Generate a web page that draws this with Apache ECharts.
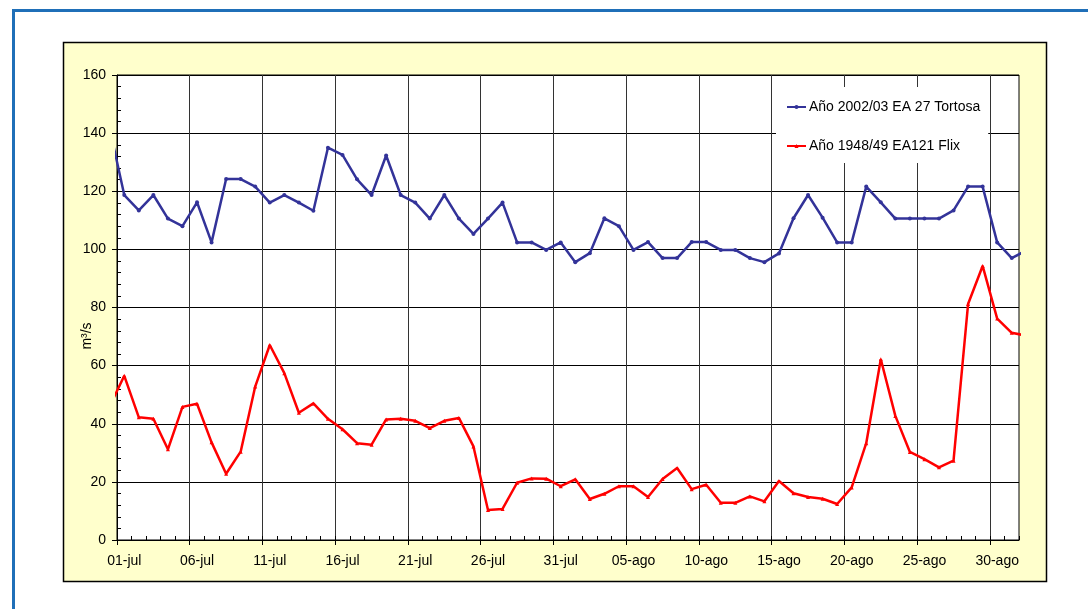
<!DOCTYPE html>
<html>
<head>
<meta charset="utf-8">
<script src="https://cdn.jsdelivr.net/npm/echarts@6/dist/echarts.min.js"></script>
<style>
  html, body { margin: 0; padding: 0; background: #fff; }
  #chart { width: 1088px; height: 609px; }
</style>
</head>
<body>
<div id="chart"></div>
<script>
// days 30-jun .. 01-sep; first and last only feed the clipped segments at the plot edges
const days = ['30-jun']
for (let d = 1; d <= 31; d++) days.push(String(d).padStart(2, '0') + '-jul')
for (let d = 1; d <= 31; d++) days.push(String(d).padStart(2, '0') + '-ago')
days.push('01-sep')

const seriesNames = ['Año 2002/03 EA 27 Tortosa', 'Año 1948/49 EA121 Flix']

const tortosa = [
  141.5,
  118.7, 113.4, 118.7, 110.6, 108.0, 116.2, 102.4, 124.2, 124.2, 121.6,
  116.1, 118.7, 116.1, 113.3, 135.0, 132.5, 124.1, 118.7, 132.3, 118.7,
  116.1, 110.6, 118.7, 110.6, 105.3, 110.6, 116.1, 102.4, 102.4, 99.8,
  102.4,
  95.6, 98.7, 110.7, 108.0, 99.8, 102.5, 97.0, 97.0, 102.5, 102.5,
  99.8, 99.8, 97.0, 95.6, 98.6, 110.7, 118.7, 110.9, 102.4, 102.4,
  121.6, 116.2, 110.6, 110.6, 110.6, 110.6, 113.4, 121.6, 121.6, 102.4,
  97.0,
  99.6
]

const flix = [
  46.1,
  56.5, 42.2, 41.7, 31.2, 45.8, 46.9, 33.6, 22.8, 30.4, 52.8,
  67.1, 57.4, 43.8, 47.0, 41.7, 38.1, 33.3, 32.8, 41.5, 41.7,
  41.0, 38.5, 41.0, 42.0, 32.2, 10.3, 10.7, 19.7, 21.2, 21.1,
  18.5,
  20.9, 14.1, 15.9, 18.5, 18.5, 14.8, 21.0, 24.8, 17.5, 19.0,
  12.8, 12.8, 15.0, 13.3, 20.3, 16.1, 14.8, 14.2, 12.4, 18.1,
  33.3, 62.2, 42.7, 30.3, 27.8, 25.0, 27.3, 81.2, 94.3, 76.2,
  71.3,
  70.3
]

// labelled days: 01-jul, 06-jul, ... 30-ago
const labelIdx = []
for (let i = 1; i < days.length - 1; i += 5) labelIdx.push(i)
const nDays = days.length - 2

const font = 'Liberation Sans, Arial, sans-serif'

const chart = echarts.init(document.getElementById('chart'))

const option = {
  backgroundColor: '#fff',
  animation: false,
  textStyle: { fontFamily: font },
  graphic: [
    {
      type: 'rect',
      z: -20,
      shape: { x: 13.5, y: 10.5, width: 1200, height: 800 },
      style: { fill: '#fff', stroke: '#1f6fb8', lineWidth: 3 },
    },
    {
      type: 'rect',
      z: -10,
      shape: { x: 63.5, y: 42.5, width: 983, height: 539 },
      style: { fill: '#ffffcc', stroke: '#000', lineWidth: 1.5 },
    },
    {
      type: 'text',
      z: 10,
      x: 87,
      y: 336,
      rotation: Math.PI / 2,
      style: {
        text: 'm³/s',
        font: '14px ' + font,
        fill: '#000',
        align: 'center',
        verticalAlign: 'middle',
      },
    },
  ],
  grid: {
    left: 117,
    right: 69,
    top: 75,
    bottom: 69,
    show: true,
    backgroundColor: '#fff',
    borderColor: '#000',
    borderWidth: 1,
  },
  legend: {
    orient: 'vertical',
    left: 776,
    top: 87,
    backgroundColor: '#fff',
    padding: [13, 8, 10, 10],
    itemGap: 25,
    itemWidth: 19,
    itemHeight: 5,
    textStyle: { fontSize: 14, color: '#000', fontFamily: font, padding: [0, 0, 0, -2] },
    data: seriesNames,
  },
  xAxis: [
    {
      type: 'value',
      min: 0,
      max: nDays,
      interval: 5,
      position: 'bottom',
      axisLine: { show: true, lineStyle: { color: '#000', width: 1 } },
      axisTick: {
        show: true,
        length: 5,
        customValues: labelIdx.map(i => i - 1),
        lineStyle: { color: '#000' },
      },
      axisLabel: {
        customValues: labelIdx.map(i => i - 0.5),
        formatter: v => days[Math.round(v + 0.5)],
        fontSize: 14,
        color: '#000',
        margin: 14,
        fontFamily: font,
      },
      splitLine: { show: true, lineStyle: { color: '#333', width: 1 } },
    },
    {
      type: 'value',
      min: 0,
      max: nDays,
      interval: 1,
      position: 'bottom',
      axisLine: { show: false },
      axisTick: { show: true, inside: true, length: 4, lineStyle: { color: '#000' } },
      axisLabel: { show: false },
      splitLine: { show: false },
    },
  ],
  yAxis: {
    type: 'value',
    min: 0,
    max: 160,
    interval: 20,
    axisLine: { show: true, lineStyle: { color: '#000', width: 1 } },
    axisTick: { show: true, length: 5, lineStyle: { color: '#000' } },
    minorTick: { show: true, splitNumber: 5, length: -4, lineStyle: { color: '#000' } },
    axisLabel: { fontSize: 14, color: '#000', margin: 11, fontFamily: font },
    splitLine: { show: true, lineStyle: { color: '#000', width: 1 } },
  },
  series: [
    {
      name: seriesNames[0],
      type: 'line',
      xAxisIndex: 0,
      data: tortosa.map((v, i) => [i - 0.5, v]),
      clip: true,
      symbol: 'circle',
      symbolSize: 4,
      lineStyle: { color: '#333399', width: 2.5 },
      itemStyle: { color: '#333399' },
      z: 3,
    },
    {
      name: seriesNames[1],
      type: 'line',
      xAxisIndex: 0,
      data: flix.map((v, i) => [i - 0.5, v]),
      clip: true,
      symbol: 'triangle',
      symbolSize: 4,
      lineStyle: { color: '#ff0000', width: 2.5 },
      itemStyle: { color: '#ff0000' },
      z: 3,
    },
  ],
}

chart.setOption(option)

window.addEventListener('resize', function () {
  chart.resize()
})
</script>
</body>
</html>
